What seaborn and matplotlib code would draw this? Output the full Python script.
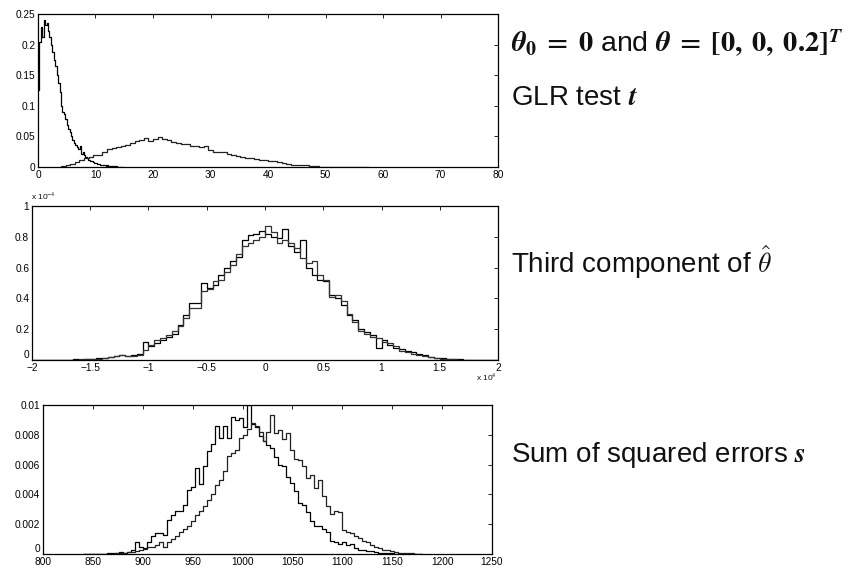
import numpy as np
import pandas as pd
import matplotlib
matplotlib.use("Agg")
import matplotlib.pyplot as plt
import seaborn as sns

# ---------------- data ----------------
# Panel 1: GLR test t (bin width 0.25 for H0, 0.8 for H1)
glr_h0_start, glr_h0_width = 0.0, 0.25
glr_h0 = [0.126, 0.205, 0.228, 0.213, 0.240, 0.232, 0.236, 0.222, 0.212, 0.200,
          0.188, 0.175, 0.165, 0.150, 0.138, 0.122, 0.100, 0.090, 0.086, 0.078,
          0.068, 0.062, 0.057, 0.050, 0.044, 0.040, 0.036, 0.032, 0.030, 0.034,
          0.022, 0.024, 0.019, 0.016, 0.015, 0.012, 0.010, 0.009, 0.008, 0.007,
          0.006, 0.005, 0.005, 0.004, 0.004, 0.003, 0.003, 0.002, 0.003, 0.002,
          0.002, 0.001, 0.001, 0.001, 0.001, 0.0005, 0.0005, 0.0003, 0.0, 0.0]
glr_h1_start, glr_h1_width = 4.0, 0.8
glr_h1 = [0.001, 0.003, 0.005, 0.008, 0.011, 0.014, 0.016, 0.019, 0.020, 0.024,
          0.029, 0.031, 0.033, 0.034, 0.036, 0.040, 0.042, 0.044, 0.047, 0.043,
          0.045, 0.049, 0.046, 0.044, 0.041, 0.039, 0.038, 0.037, 0.035, 0.034,
          0.033, 0.035, 0.027, 0.025, 0.024, 0.024, 0.022, 0.020, 0.018, 0.016,
          0.015, 0.014, 0.013, 0.012, 0.011, 0.010, 0.009, 0.0085, 0.007, 0.005,
          0.004, 0.0035, 0.003, 0.0025, 0.002, 0.0015, 0.0008, 0.0006, 0.0005, 0.0004,
          0.0003, 0.0002, 0.0002, 0.0001, 0.0002, 0.0001, 0.0]

# Panel 2: third component of theta-hat (x in units of 1e4, y in units of 1e-4)
th_start, th_width = -2.0, 0.05
theta_a = [0, 0.001, 0, 0.001, 0, 0.001, 0.002, 0.004, 0.003, 0.005,
           0.008, 0.010, 0.012, 0.020, 0.028, 0.032, 0.028, 0.030, 0.040, 0.120,
           0.090, 0.110, 0.130, 0.150, 0.170, 0.230, 0.290, 0.370, 0.370, 0.500,
           0.470, 0.490, 0.550, 0.600, 0.640, 0.670, 0.780, 0.810, 0.820, 0.840,
           0.820, 0.800, 0.790, 0.850, 0.740, 0.700, 0.780, 0.600, 0.550, 0.520,
           0.510, 0.420, 0.400, 0.360, 0.290, 0.260, 0.200, 0.180, 0.160, 0.080,
           0.130, 0.100, 0.080, 0.070, 0.060, 0.050, 0.040, 0.030, 0.020, 0.015,
           0.010, 0.008, 0.005, 0.004, 0.002, 0.001, 0.001, 0.0, 0, 0]
theta_b = [0, 0, 0.001, 0, 0.001, 0.001, 0.003, 0.002, 0.005, 0.004,
           0.006, 0.008, 0.015, 0.018, 0.025, 0.030, 0.026, 0.025, 0.035, 0.065,
           0.100, 0.130, 0.140, 0.160, 0.190, 0.220, 0.270, 0.340, 0.340, 0.450,
           0.460, 0.510, 0.520, 0.570, 0.620, 0.690, 0.740, 0.760, 0.780, 0.800,
           0.870, 0.830, 0.760, 0.780, 0.760, 0.730, 0.660, 0.630, 0.640, 0.550,
           0.520, 0.410, 0.420, 0.380, 0.300, 0.250, 0.190, 0.170, 0.150, 0.140,
           0.120, 0.110, 0.090, 0.060, 0.050, 0.040, 0.035, 0.025, 0.020, 0.012,
           0.008, 0.006, 0.005, 0.003, 0.003, 0.002, 0.0, 0.001, 0, 0]

# Panel 3: sum of squared errors s (y in units of 1e-3)
sse_start, sse_width = 840.0, 4.0
sse_a = [0.0, 0.02, 0.0, 0.02, 0.03, 0.03, 0.05, 0.07, 0.08, 0.15,
         0.10, 0.15, 0.30, 0.78, 0.45, 0.40, 0.80, 1.20, 1.40, 1.40,
         1.30, 2.30, 2.60, 2.90, 2.90, 3.30, 4.30, 4.50, 5.80, 4.70,
         5.90, 6.90, 7.40, 8.60, 7.80, 8.60, 7.80, 9.20, 9.00, 9.10,
         8.50, 10.0, 8.70, 8.50, 7.90, 7.60, 7.30, 7.10, 6.50, 6.00,
         5.90, 5.20, 4.80, 4.20, 3.40, 3.30, 2.80, 2.20, 1.90, 1.90,
         1.70, 1.50, 0.90, 0.80, 0.70, 0.80, 0.60, 0.70, 0.40, 0.30,
         0.30, 0.20, 0.20, 0.15, 0.10, 0.10, 0.05, 0.05, 0.02, 0.02,
         0.0, 0.01, 0.0, 0.0, 0.0]
sse_b = [0, 0, 0, 0.01, 0.01, 0.02, 0.02, 0.03, 0.05, 0.08,
         0.10, 0.12, 0.15, 0.20, 0.30, 0.35, 0.45, 0.50, 0.60, 0.80,
         0.50, 0.80, 1.00, 1.20, 1.50, 1.70, 1.90, 2.20, 2.60, 2.90,
         3.20, 3.60, 4.00, 4.60, 5.00, 5.60, 6.60, 6.80, 7.00, 7.80,
         8.00, 8.40, 8.80, 8.60, 8.20, 7.60, 8.20, 9.30, 8.10, 8.30,
         7.70, 8.10, 7.00, 6.40, 6.30, 5.90, 5.10, 5.30, 4.40, 5.00,
         3.90, 3.20, 2.70, 2.90, 2.80, 1.60, 1.50, 1.40, 1.20, 1.10,
         0.90, 0.80, 0.60, 0.50, 0.40, 0.30, 0.25, 0.20, 0.15, 0.10,
         0.10, 0.08, 0.05, 0.02, 0.01]

# ---------------- styling ----------------
sns.set_style("white")
plt.rcParams["font.family"] = ["Liberation Sans", "DejaVu Sans"]
plt.rcParams["mathtext.fontset"] = "stix"
plt.rcParams["text.color"] = "#111111"

fig = plt.figure(figsize=(8.5, 5.68), dpi=100)
ax1 = fig.add_axes([0.0447, 0.7060, 0.5412, 0.2694])
ax2 = fig.add_axes([0.0376, 0.3662, 0.5483, 0.2711])
ax3 = fig.add_axes([0.0506, 0.0246, 0.5282, 0.2623])


def draw_hist(ax, start, width, vals, color):
    vals = np.asarray(vals, dtype=float)
    edges = start + width * np.arange(len(vals) + 1)
    centers = (edges[:-1] + edges[1:]) / 2
    df = pd.DataFrame({"x": centers, "w": vals})
    sns.histplot(data=df, x="x", weights="w", bins=edges.tolist(), element="step",
                 fill=False, stat="count", color=color, linewidth=0.9, ax=ax)


draw_hist(ax1, glr_h0_start, glr_h0_width, glr_h0, "#000000")
draw_hist(ax1, glr_h1_start, glr_h1_width, glr_h1, "#222222")
draw_hist(ax2, th_start, th_width, theta_a, "#000000")
draw_hist(ax2, th_start, th_width, theta_b, "#333333")
draw_hist(ax3, sse_start, sse_width, sse_a, "#000000")
draw_hist(ax3, sse_start, sse_width, sse_b, "#222222")

ax1.set_xlim(0, 80)
ax1.set_ylim(0, 0.25)
ax1.set_xticks(np.arange(0, 81, 10))
ax1.set_yticks([0, 0.05, 0.1, 0.15, 0.2, 0.25])
ax1.set_yticklabels(["0", "0.05", "0.1", "0.15", "0.2", "0.25"])

ax2.set_xlim(-2, 2)
ax2.set_ylim(0, 1)
ax2.set_xticks(np.arange(-2, 2.01, 0.5))
ax2.set_xticklabels(["\u22122", "\u22121.5", "\u22121", "\u22120.5", "0", "0.5", "1", "1.5", "2"])
ax2.set_yticks([0, 0.2, 0.4, 0.6, 0.8, 1.0])
ax2.set_yticklabels(["0", "0.2", "0.4", "0.6", "0.8", "1"])

ax3.set_xlim(800, 1250)
ax3.set_ylim(0, 10)
ax3.set_xticks(np.arange(800, 1251, 50))
ax3.set_yticks([0, 2, 4, 6, 8, 10])
ax3.set_yticklabels(["0", "0.002", "0.004", "0.006", "0.008", "0.01"])

for ax in (ax1, ax2, ax3):
    ax.set_xlabel("")
    ax.set_ylabel("")
    for sp in ax.spines.values():
        sp.set_visible(True)
        sp.set_color("black")
        sp.set_linewidth(0.9)
    ax.tick_params(direction="in", top=True, right=True, length=3, width=0.6,
                   labelsize=7.3, pad=2, colors="black")

# lift the lowest y label a little so it clears the first x label
for ax in (ax2, ax3):
    lbl = ax.get_yticklabels()[0]
    lbl.set_verticalalignment("bottom")

fig.text(0.036, 0.648, r"x 10$^{-4}$", fontsize=6)
fig.text(0.560, 0.329, r"x 10$^{4}$", fontsize=6)

fs = 20
fig.text(0.601, 0.924,
         r"$\mathbfit{\theta}_\mathbf{0}\mathbf{\;=\;0}$ and $\mathbfit{\theta}\mathbf{\;=\;[0,\;0,\;0.2]}^{\mathbfit{T}}$",
         fontsize=20.5, va="center", ha="left")
fig.text(0.601, 0.827, r"GLR test $\mathbfit{t}$", fontsize=fs, va="center", ha="left")
fig.text(0.601, 0.539, r"Third component of $\hat{\theta}$", fontsize=fs, va="center",
         ha="left", math_fontfamily="cm")
fig.text(0.601, 0.199, r"Sum of squared errors $\mathbfit{s}$", fontsize=fs, va="center", ha="left")

fig.savefig("out.png", dpi=100, facecolor="white")
